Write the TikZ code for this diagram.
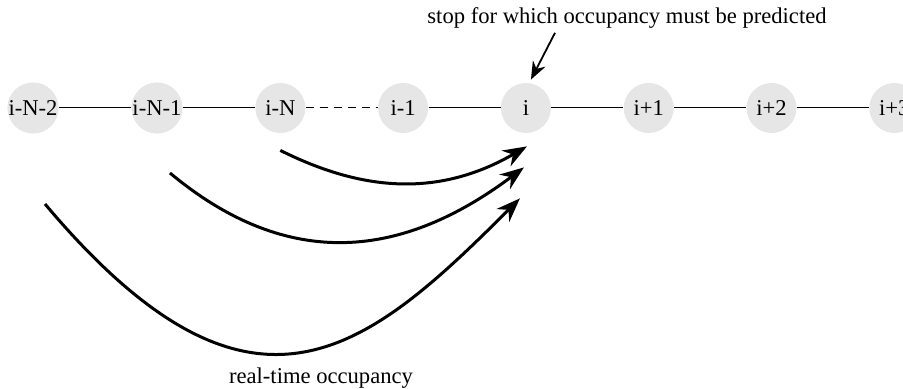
\documentclass[tikz,border=0pt]{standalone}
\usepackage{fontspec}
\setmainfont{Liberation Serif}
\usetikzlibrary{arrows.meta, positioning}
\definecolor{stopGray}{HTML}{E6E6E6}
\tikzset{
  stopnode/.style={circle, fill=stopGray, minimum size=25pt, inner sep=0pt},
  linkS/.style={black, line width=0.5pt},
  linkD/.style={black, line width=0.5pt, dash pattern=on 4pt off 3pt},
  arrowOcc/.style={-{Stealth[length=12pt, width=9pt]}, black, line width=1.5pt},
  arrowTop/.style={-{Stealth[length=9pt, width=7pt]}, black, line width=0.9pt},
}
\begin{document}
\begin{tikzpicture}[x=0.5pt, y=-0.5pt, font=\fontsize{11.3pt}{13pt}\selectfont,
    node distance=36pt]
  \useasboundingbox (0,0) rectangle (903,389);
  % stops along the line
  \node[stopnode] (iNm2) at (33,108) {i-N-2};
  \node[stopnode, right=of iNm2] (iNm1) {i-N-1};
  \node[stopnode, right=of iNm1] (iN) {i-N};
  \node[stopnode, right=of iN] (im1) {i-1};
  \node[stopnode, right=of im1] (i) {i};
  \node[stopnode, right=of i] (ip1) {i+1};
  \node[stopnode, right=of ip1] (ip2) {i+2};
  \node[stopnode, right=of ip2] (ip3) {i+3};
  \draw[linkS] (iNm2) -- (iNm1); \draw[linkS] (iNm1) -- (iN);
  \draw[linkD] (iN) -- (im1);
  \draw[linkS] (im1) -- (i); \draw[linkS] (i) -- (ip1);
  \draw[linkS] (ip1) -- (ip2); \draw[linkS] (ip2) -- (ip3);
  % labels
  \node[inner sep=0pt] (pred) at (627,18) {stop for which occupancy must be predicted};
  \node[inner sep=0pt] (occ) at (321,378) {real-time occupancy};
  \draw[arrowTop] ([xshift=-36pt, yshift=-2pt]pred.south) -- ([xshift=2.5pt, yshift=1.5pt]i.north);
  % real-time occupancy arrows
  \coordinate (s1) at ([yshift=-8.5pt]iN.south);
  \coordinate (s2) at ([xshift=6.5pt, yshift=-19.5pt]iNm1.south);
  \coordinate (s3) at ([xshift=6pt, yshift=-35pt]iNm2.south);
  \coordinate (e1) at ([xshift=0.5pt, yshift=-6.5pt]i.south);
  \coordinate (e2) at ([xshift=-1pt, yshift=-17pt]i.south);
  \coordinate (e3) at ([xshift=-3pt, yshift=-32.5pt]i.south);
  \draw[arrowOcc] (s1) .. controls +(80,40) and +(-90,52) .. (e1);
  \draw[arrowOcc] (s2) .. controls +(120,100) and +(-120,90) .. (e2);
  \draw[arrowOcc] (s3) .. controls +(207,246) and +(-154,154) .. (e3);
\end{tikzpicture}
\end{document}
